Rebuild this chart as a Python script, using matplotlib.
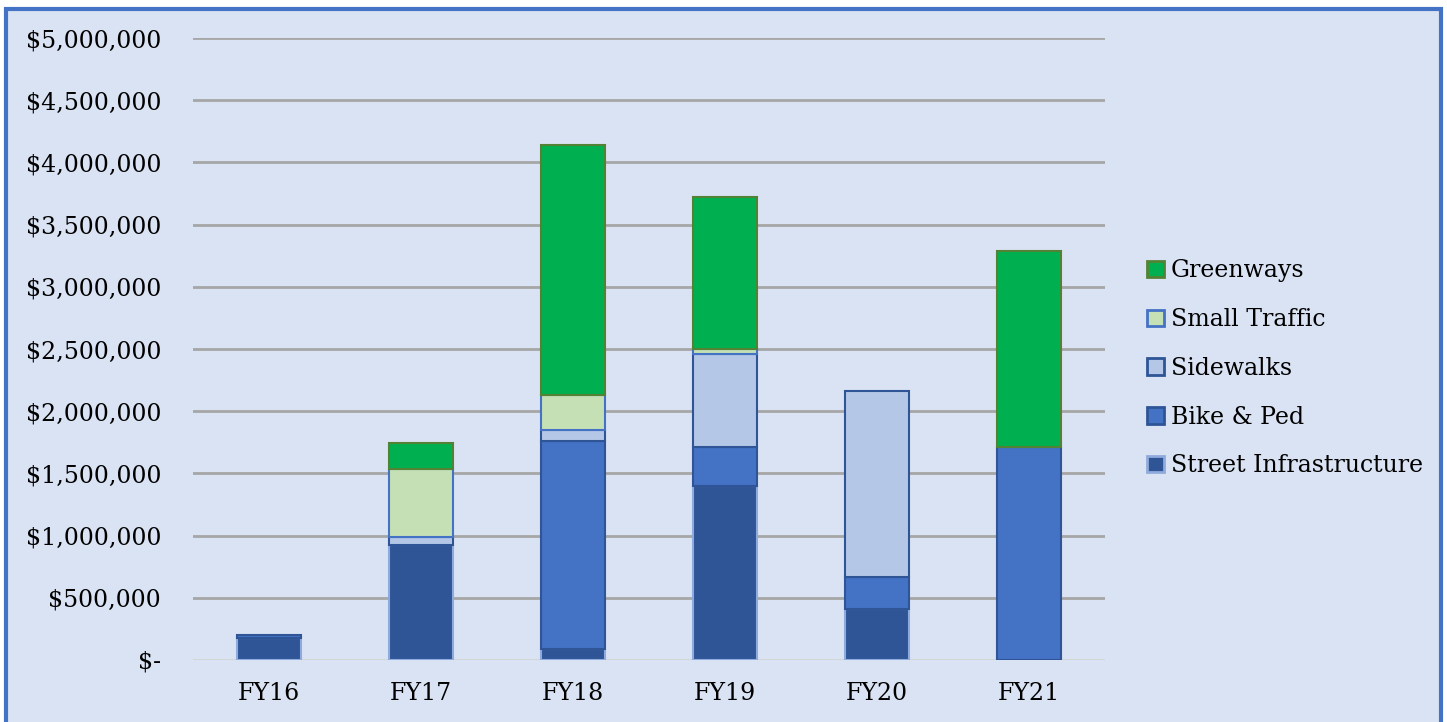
import matplotlib.pyplot as plt
from matplotlib.patches import Rectangle, Patch
from matplotlib.ticker import FuncFormatter

years = ['FY16', 'FY17', 'FY18', 'FY19', 'FY20', 'FY21']
series = ['Street Infrastructure', 'Bike & Ped', 'Sidewalks', 'Small Traffic', 'Greenways']

street = [175000, 925000, 92000, 1397000, 407000, 0]
bike_ped = [25000, 0, 1672000, 316000, 263000, 1710000]
sidewalks = [0, 65000, 83000, 745000, 1495000, 0]
small_traffic = [0, 545000, 287000, 43000, 0, 0]
greenways = [0, 210000, 2003000, 1220000, 0, 1578000]

values = [street, bike_ped, sidewalks, small_traffic, greenways]
fills = ['#2F5597', '#4472C4', '#B4C7E7', '#C5E0B4', '#00B050']
edges = ['#8FAADC', '#2F5597', '#2F5597', '#4472C4', '#548235']

bg = '#DAE3F3'
plt.rcParams['font.family'] = ['DejaVu Serif']

fig = plt.figure(figsize=(14.47, 7.22), dpi=100)
fig.patch.set_facecolor('white')
# outer frame of the chart
fig.add_artist(Rectangle((0.004, -0.01), 0.992, 0.998,
                         transform=fig.transFigure, facecolor=bg,
                         edgecolor='#4472C4', linewidth=3, zorder=0))

ax = fig.add_axes([193 / 1447, 62 / 722, 912 / 1447, 622 / 722])
ax.set_facecolor('none')

x = range(len(years))
bottom = [0] * len(years)
handles = []
for name, vals, fc, ec in zip(series, values, fills, edges):
    bars = ax.bar(x, vals, width=0.42, bottom=bottom, color=fc,
                  edgecolor=ec, linewidth=1.5, zorder=3)
    # no outline for empty segments
    for b, v in zip(bars, vals):
        if v == 0:
            b.set_visible(False)
    handles.append(Patch(facecolor=fc, edgecolor=ec, linewidth=2, label=name))
    bottom = [b + v for b, v in zip(bottom, vals)]

ax.set_xlim(-0.5, 5.5)
ax.set_ylim(0, 5000000)
ax.set_yticks(range(0, 5000001, 500000))
ax.yaxis.set_major_formatter(FuncFormatter(
    lambda v, p: '$-' if v == 0 else '${:,.0f}'.format(v)))
ax.set_xticks(list(x))
ax.set_xticklabels(years)
ax.grid(axis='y', color='#A6A6A6', linewidth=2, zorder=0)
ax.axhline(0, color='#D9D9D9', linewidth=2, zorder=2)
for s in ax.spines.values():
    s.set_visible(False)
ax.tick_params(axis='both', length=0, labelsize=17, colors='black')
ax.tick_params(axis='y', pad=23)
ax.tick_params(axis='x', pad=16)

leg = ax.legend(handles=handles[::-1], loc='center left',
                bbox_to_anchor=(1.036, 0.469), frameon=False, fontsize=17,
                handlelength=0.7, handleheight=0.7, handletextpad=0.3,
                labelspacing=1.09, borderaxespad=0)

fig.savefig('out.png', dpi=100, facecolor=fig.get_facecolor())
